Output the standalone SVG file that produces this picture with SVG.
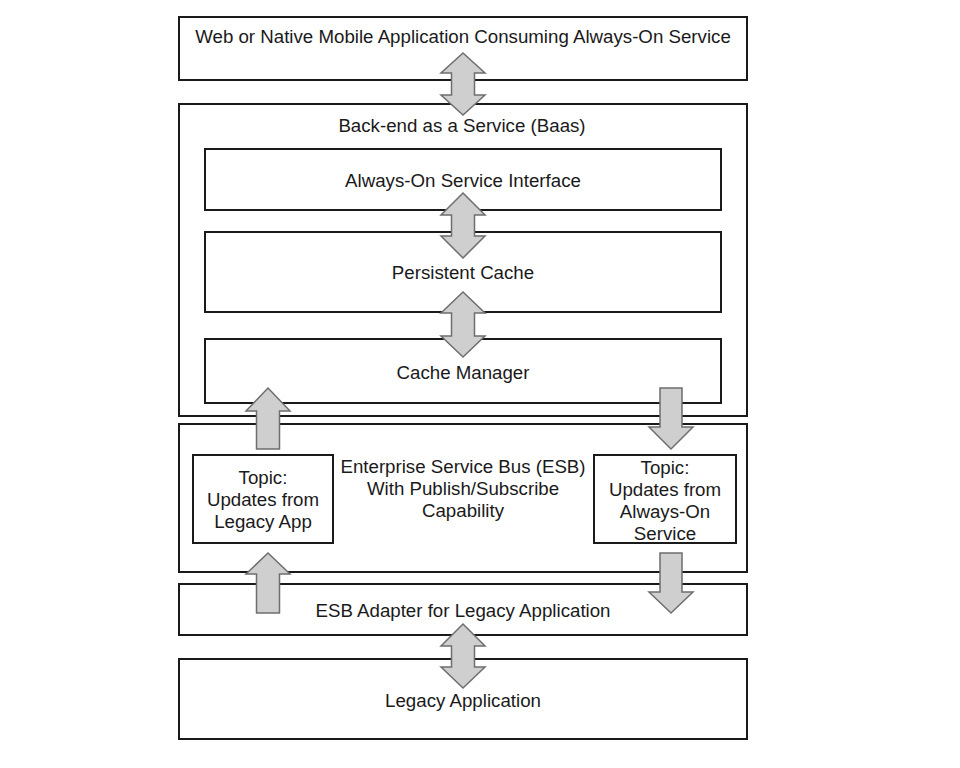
<svg xmlns="http://www.w3.org/2000/svg" width="960" height="768" viewBox="0 0 960 768">
<style>
.box{fill:#ffffff;stroke:#1a1a1a;stroke-width:2}
.arr{fill:#cfcfcf;stroke:#6e6e6e;stroke-width:1.5;stroke-linejoin:miter}
text{font-family:"Liberation Sans",Arial,sans-serif;font-size:18.7px;fill:#1a1a1a;text-anchor:middle}
</style>
<rect width="960" height="768" fill="#ffffff"/>
<g id="web-app"><rect class="box" x="179" y="17" width="568" height="63"/><text x="463" y="43">Web or Native Mobile Application Consuming Always-On Service</text></g>
<g id="baas"><rect class="box" x="179" y="104" width="568" height="312"/><text x="462" y="132">Back-end as a Service (Baas)</text></g>
<g id="service-interface"><rect class="box" x="205" y="149" width="516" height="61"/><text x="463" y="187">Always-On Service Interface</text></g>
<g id="persistent-cache"><rect class="box" x="205" y="232" width="516" height="80"/><text x="463" y="279">Persistent Cache</text></g>
<g id="cache-manager"><rect class="box" x="205" y="339" width="516" height="64"/><text x="463" y="379">Cache Manager</text></g>
<g id="esb"><rect class="box" x="179" y="424" width="568" height="148"/><text x="463" y="473">Enterprise Service Bus (ESB)</text><text x="463" y="495">With Publish/Subscribe</text><text x="463" y="517">Capability</text></g>
<g id="topic-legacy"><rect class="box" x="193" y="455" width="140" height="88"/><text x="263" y="484">Topic:</text><text x="263" y="506">Updates from</text><text x="263" y="528">Legacy App</text></g>
<g id="topic-always-on"><rect class="box" x="594" y="455" width="142" height="88"/><text x="665" y="474">Topic:</text><text x="665" y="496">Updates from</text><text x="665" y="518">Always-On</text><text x="665" y="540">Service</text></g>
<g id="esb-adapter"><rect class="box" x="179" y="584" width="568" height="51"/><text x="463" y="617">ESB Adapter for Legacy Application</text></g>
<g id="legacy-app"><rect class="box" x="179" y="659" width="568" height="80"/><text x="463" y="707">Legacy Application</text></g>
<g id="connectors">
<path class="arr" d="M463,53 L485,73 L474.5,73 L474.5,95 L485,95 L463,115 L441,95 L451.5,95 L451.5,73 L441,73 Z"/>
<path class="arr" d="M463,193 L485,215 L474.5,215 L474.5,236 L485,236 L463,258 L441,236 L451.5,236 L451.5,215 L441,215 Z"/>
<path class="arr" d="M463,292 L485,313 L474.5,313 L474.5,336 L485,336 L463,357 L441,336 L451.5,336 L451.5,313 L441,313 Z"/>
<path class="arr" d="M463,624 L485,646 L474.5,646 L474.5,667 L485,667 L463,688 L441,667 L451.5,667 L451.5,646 L441,646 Z"/>
<path class="arr" d="M268,388 L290,411 L279.5,411 L279.5,449 L256.5,449 L256.5,411 L246,411 Z"/>
<path class="arr" d="M268,553 L290,574 L279.5,574 L279.5,613 L256.5,613 L256.5,574 L246,574 Z"/>
<path class="arr" d="M660,388 L682,388 L682,427 L693,427 L671,449 L649,427 L660,427 Z"/>
<path class="arr" d="M660,553 L682,553 L682,592 L693,592 L671,613 L649,592 L660,592 Z"/>
</g>
</svg>
